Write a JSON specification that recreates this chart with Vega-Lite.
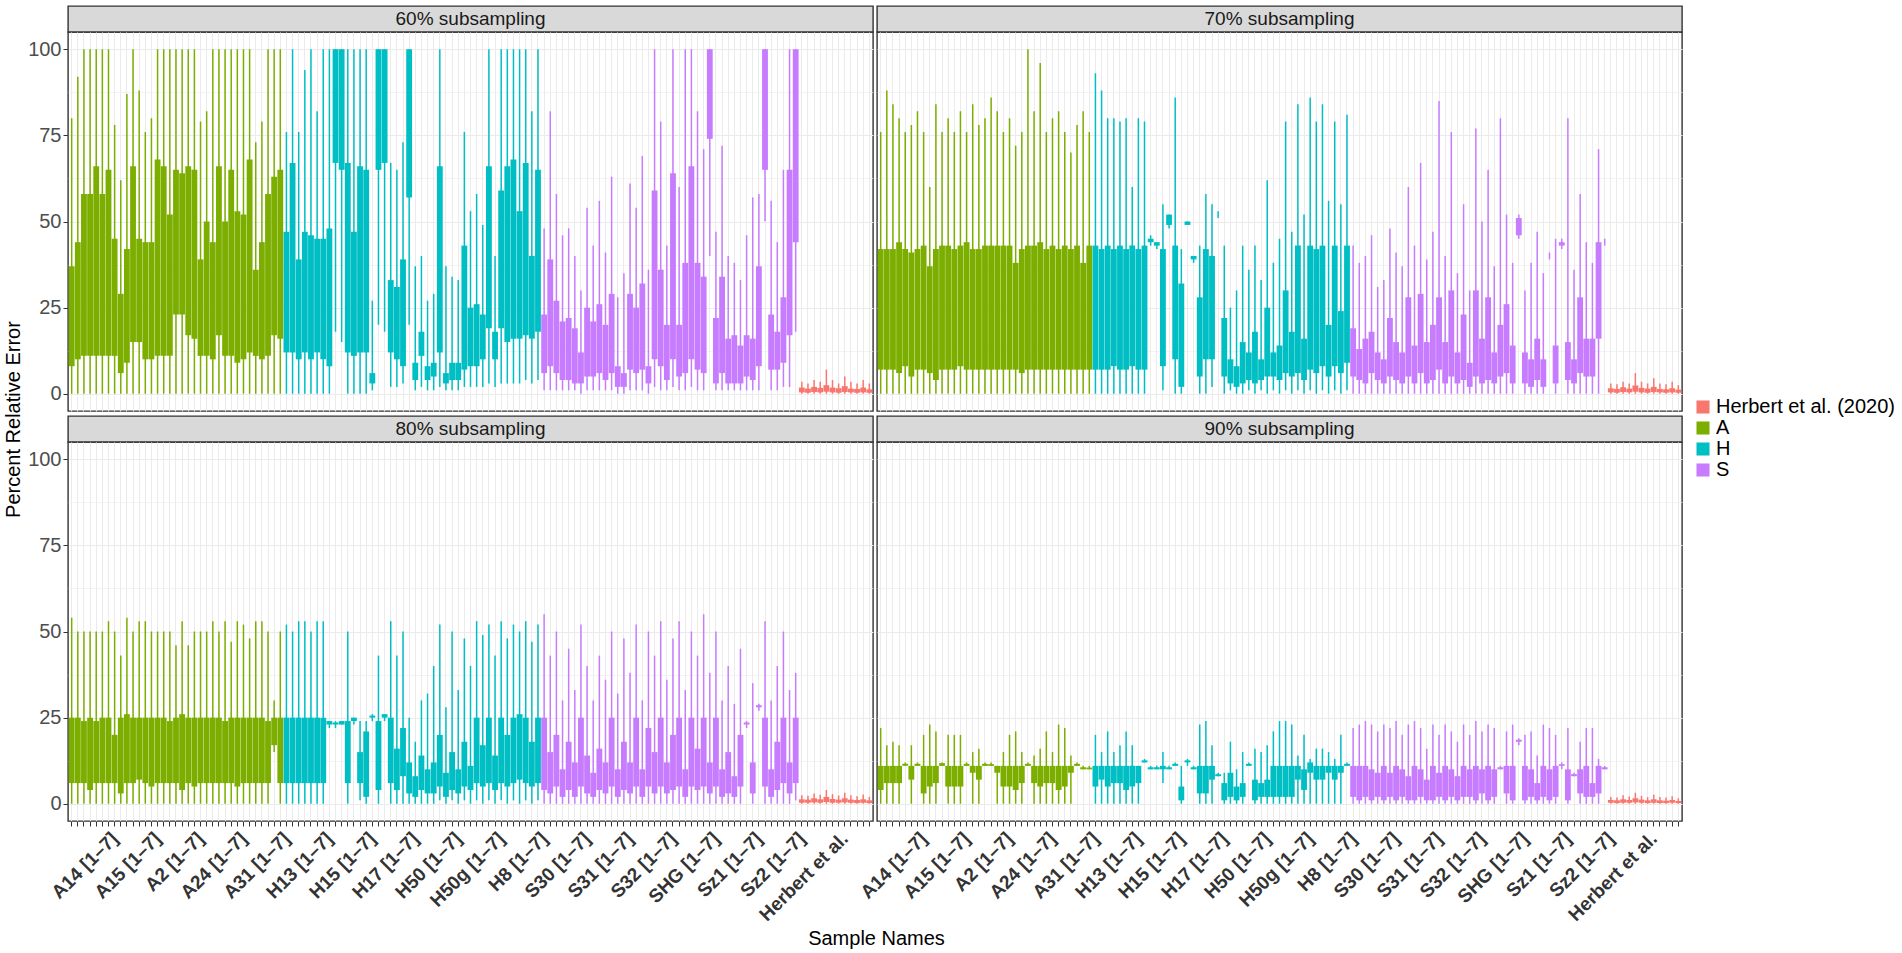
{
  "$schema": "https://vega.github.io/schema/vega-lite/v6.json",
  "background": "white",
  "padding": {"left": 2, "top": 5, "right": 0, "bottom": 0},
  "config": {
    "font": "Liberation Sans",
    "view": {"stroke": "#333333", "strokeWidth": 1.4},
    "axis": {"domain": false, "gridColor": "#EBEBEB", "tickColor": "#333333", "labelColor": "#4D4D4D", "titleColor": "#000000", "titleFontWeight": "normal", "labelFont": "Liberation Sans", "titleFont": "Liberation Sans"}
  },
  "datasets": {
    "box": [
      {"p":"60","s":"A14_1","g":"A","lo":0,"q1":8,"q3":37,"hi":80},
      {"p":"60","s":"A14_2","g":"A","lo":0,"q1":10,"q3":44,"hi":92},
      {"p":"60","s":"A14_3","g":"A","lo":0,"q1":11,"q3":58,"hi":100},
      {"p":"60","s":"A14_4","g":"A","lo":0,"q1":11,"q3":58,"hi":100},
      {"p":"60","s":"A14_5","g":"A","lo":0,"q1":11,"q3":66,"hi":100},
      {"p":"60","s":"A14_6","g":"A","lo":0,"q1":11,"q3":58,"hi":100},
      {"p":"60","s":"A14_7","g":"A","lo":0,"q1":11,"q3":65,"hi":100},
      {"p":"60","s":"A15_1","g":"A","lo":0,"q1":11,"q3":45,"hi":78},
      {"p":"60","s":"A15_2","g":"A","lo":0,"q1":6,"q3":29,"hi":62},
      {"p":"60","s":"A15_3","g":"A","lo":0,"q1":9,"q3":42,"hi":87},
      {"p":"60","s":"A15_4","g":"A","lo":0,"q1":15,"q3":66,"hi":100},
      {"p":"60","s":"A15_5","g":"A","lo":0,"q1":15,"q3":45,"hi":88},
      {"p":"60","s":"A15_6","g":"A","lo":0,"q1":10,"q3":44,"hi":76},
      {"p":"60","s":"A15_7","g":"A","lo":0,"q1":10,"q3":44,"hi":80},
      {"p":"60","s":"A2_1","g":"A","lo":0,"q1":11,"q3":68,"hi":100},
      {"p":"60","s":"A2_2","g":"A","lo":0,"q1":11,"q3":66,"hi":100},
      {"p":"60","s":"A2_3","g":"A","lo":0,"q1":11,"q3":52,"hi":100},
      {"p":"60","s":"A2_4","g":"A","lo":0,"q1":23,"q3":65,"hi":100},
      {"p":"60","s":"A2_5","g":"A","lo":0,"q1":23,"q3":64,"hi":100},
      {"p":"60","s":"A2_6","g":"A","lo":0,"q1":17,"q3":66,"hi":100},
      {"p":"60","s":"A2_7","g":"A","lo":0,"q1":16,"q3":65,"hi":100},
      {"p":"60","s":"A24_1","g":"A","lo":0,"q1":11,"q3":39,"hi":79},
      {"p":"60","s":"A24_2","g":"A","lo":0,"q1":11,"q3":50,"hi":82},
      {"p":"60","s":"A24_3","g":"A","lo":0,"q1":10,"q3":44,"hi":100},
      {"p":"60","s":"A24_4","g":"A","lo":0,"q1":17,"q3":66,"hi":100},
      {"p":"60","s":"A24_5","g":"A","lo":0,"q1":11,"q3":50,"hi":100},
      {"p":"60","s":"A24_6","g":"A","lo":0,"q1":11,"q3":65,"hi":100},
      {"p":"60","s":"A24_7","g":"A","lo":0,"q1":9,"q3":53,"hi":100},
      {"p":"60","s":"A31_1","g":"A","lo":0,"q1":10,"q3":52,"hi":100},
      {"p":"60","s":"A31_2","g":"A","lo":0,"q1":12,"q3":68,"hi":100},
      {"p":"60","s":"A31_3","g":"A","lo":0,"q1":11,"q3":36,"hi":73},
      {"p":"60","s":"A31_4","g":"A","lo":0,"q1":10,"q3":44,"hi":79},
      {"p":"60","s":"A31_5","g":"A","lo":0,"q1":11,"q3":58,"hi":100},
      {"p":"60","s":"A31_6","g":"A","lo":0,"q1":17,"q3":63,"hi":100},
      {"p":"60","s":"A31_7","g":"A","lo":0,"q1":16,"q3":65,"hi":100},
      {"p":"60","s":"H13_1","g":"H","lo":0,"q1":12,"q3":47,"hi":76},
      {"p":"60","s":"H13_2","g":"H","lo":0,"q1":12,"q3":67,"hi":100},
      {"p":"60","s":"H13_3","g":"H","lo":0,"q1":10,"q3":39,"hi":76},
      {"p":"60","s":"H13_4","g":"H","lo":0,"q1":12,"q3":47,"hi":94},
      {"p":"60","s":"H13_5","g":"H","lo":0,"q1":10,"q3":46,"hi":100},
      {"p":"60","s":"H13_6","g":"H","lo":0,"q1":12,"q3":45,"hi":82},
      {"p":"60","s":"H13_7","g":"H","lo":0,"q1":10,"q3":45,"hi":100},
      {"p":"60","s":"H15_1","g":"H","lo":0,"q1":8,"q3":48,"hi":100},
      {"p":"60","s":"H15_2","g":"H","lo":18,"q1":67,"q3":100,"hi":100},
      {"p":"60","s":"H15_3","g":"H","lo":15,"q1":65,"q3":100,"hi":100},
      {"p":"60","s":"H15_4","g":"H","lo":0,"q1":12,"q3":67,"hi":100},
      {"p":"60","s":"H15_5","g":"H","lo":0,"q1":11,"q3":47,"hi":100},
      {"p":"60","s":"H15_6","g":"H","lo":0,"q1":12,"q3":66,"hi":100},
      {"p":"60","s":"H15_7","g":"H","lo":0,"q1":12,"q3":65,"hi":100},
      {"p":"60","s":"H17_1","g":"H","lo":1,"q1":3,"q3":6,"hi":27},
      {"p":"60","s":"H17_2","g":"H","lo":20,"q1":65,"q3":100,"hi":100},
      {"p":"60","s":"H17_3","g":"H","lo":18,"q1":67,"q3":100,"hi":100},
      {"p":"60","s":"H17_4","g":"H","lo":2,"q1":12,"q3":33,"hi":67},
      {"p":"60","s":"H17_5","g":"H","lo":2,"q1":10,"q3":31,"hi":65},
      {"p":"60","s":"H17_6","g":"H","lo":3,"q1":8,"q3":39,"hi":73},
      {"p":"60","s":"H17_7","g":"H","lo":20,"q1":57,"q3":100,"hi":100},
      {"p":"60","s":"H50_1","g":"H","lo":1,"q1":4,"q3":9,"hi":37},
      {"p":"60","s":"H50_2","g":"H","lo":2,"q1":11,"q3":18,"hi":40},
      {"p":"60","s":"H50_3","g":"H","lo":1,"q1":4,"q3":8,"hi":27},
      {"p":"60","s":"H50_4","g":"H","lo":1,"q1":5,"q3":9,"hi":29},
      {"p":"60","s":"H50_5","g":"H","lo":2,"q1":12,"q3":66,"hi":100},
      {"p":"60","s":"H50_6","g":"H","lo":1,"q1":3,"q3":6,"hi":37},
      {"p":"60","s":"H50_7","g":"H","lo":1,"q1":4,"q3":9,"hi":34},
      {"p":"60","s":"H50g_1","g":"H","lo":1,"q1":4,"q3":9,"hi":33},
      {"p":"60","s":"H50g_2","g":"H","lo":2,"q1":7,"q3":43,"hi":76},
      {"p":"60","s":"H50g_3","g":"H","lo":2,"q1":8,"q3":25,"hi":53},
      {"p":"60","s":"H50g_4","g":"H","lo":2,"q1":8,"q3":26,"hi":58},
      {"p":"60","s":"H50g_5","g":"H","lo":2,"q1":10,"q3":23,"hi":49},
      {"p":"60","s":"H50g_6","g":"H","lo":3,"q1":19,"q3":66,"hi":100},
      {"p":"60","s":"H50g_7","g":"H","lo":2,"q1":10,"q3":18,"hi":40},
      {"p":"60","s":"H8_1","g":"H","lo":3,"q1":19,"q3":59,"hi":100},
      {"p":"60","s":"H8_2","g":"H","lo":3,"q1":15,"q3":66,"hi":100},
      {"p":"60","s":"H8_3","g":"H","lo":3,"q1":16,"q3":68,"hi":100},
      {"p":"60","s":"H8_4","g":"H","lo":3,"q1":16,"q3":53,"hi":100},
      {"p":"60","s":"H8_5","g":"H","lo":4,"q1":17,"q3":67,"hi":100},
      {"p":"60","s":"H8_6","g":"H","lo":3,"q1":16,"q3":40,"hi":82},
      {"p":"60","s":"H8_7","g":"H","lo":4,"q1":18,"q3":65,"hi":100},
      {"p":"60","s":"S30_1","g":"S","lo":1,"q1":6,"q3":23,"hi":48},
      {"p":"60","s":"S30_2","g":"S","lo":1,"q1":8,"q3":39,"hi":82},
      {"p":"60","s":"S30_3","g":"S","lo":1,"q1":6,"q3":27,"hi":58},
      {"p":"60","s":"S30_4","g":"S","lo":1,"q1":4,"q3":21,"hi":46},
      {"p":"60","s":"S30_5","g":"S","lo":1,"q1":4,"q3":22,"hi":48},
      {"p":"60","s":"S30_6","g":"S","lo":1,"q1":3,"q3":19,"hi":40},
      {"p":"60","s":"S30_7","g":"S","lo":0,"q1":3,"q3":12,"hi":30},
      {"p":"60","s":"S31_1","g":"S","lo":1,"q1":5,"q3":25,"hi":54},
      {"p":"60","s":"S31_2","g":"S","lo":1,"q1":5,"q3":21,"hi":43},
      {"p":"60","s":"S31_3","g":"S","lo":1,"q1":6,"q3":26,"hi":56},
      {"p":"60","s":"S31_4","g":"S","lo":1,"q1":4,"q3":20,"hi":41},
      {"p":"60","s":"S31_5","g":"S","lo":1,"q1":6,"q3":29,"hi":63},
      {"p":"60","s":"S31_6","g":"S","lo":0,"q1":2,"q3":8,"hi":28},
      {"p":"60","s":"S31_7","g":"S","lo":0,"q1":2,"q3":6,"hi":35},
      {"p":"60","s":"S32_1","g":"S","lo":1,"q1":7,"q3":29,"hi":61},
      {"p":"60","s":"S32_2","g":"S","lo":1,"q1":6,"q3":25,"hi":54},
      {"p":"60","s":"S32_3","g":"S","lo":1,"q1":7,"q3":32,"hi":69},
      {"p":"60","s":"S32_4","g":"S","lo":0,"q1":3,"q3":8,"hi":36},
      {"p":"60","s":"S32_5","g":"S","lo":2,"q1":10,"q3":59,"hi":100},
      {"p":"60","s":"S32_6","g":"S","lo":1,"q1":8,"q3":36,"hi":79},
      {"p":"60","s":"S32_7","g":"S","lo":1,"q1":4,"q3":20,"hi":43},
      {"p":"60","s":"SHG_1","g":"S","lo":2,"q1":10,"q3":64,"hi":100},
      {"p":"60","s":"SHG_2","g":"S","lo":1,"q1":5,"q3":20,"hi":60},
      {"p":"60","s":"SHG_3","g":"S","lo":1,"q1":6,"q3":38,"hi":100},
      {"p":"60","s":"SHG_4","g":"S","lo":2,"q1":10,"q3":66,"hi":100},
      {"p":"60","s":"SHG_5","g":"S","lo":1,"q1":7,"q3":38,"hi":82},
      {"p":"60","s":"SHG_6","g":"S","lo":1,"q1":6,"q3":34,"hi":71},
      {"p":"60","s":"SHG_7","g":"S","lo":40,"q1":74,"q3":100,"hi":100},
      {"p":"60","s":"Sz1_1","g":"S","lo":1,"q1":3,"q3":22,"hi":47},
      {"p":"60","s":"Sz1_2","g":"S","lo":1,"q1":6,"q3":34,"hi":72},
      {"p":"60","s":"Sz1_3","g":"S","lo":1,"q1":3,"q3":16,"hi":40},
      {"p":"60","s":"Sz1_4","g":"S","lo":1,"q1":3,"q3":17,"hi":38},
      {"p":"60","s":"Sz1_5","g":"S","lo":1,"q1":3,"q3":14,"hi":33},
      {"p":"60","s":"Sz1_6","g":"S","lo":1,"q1":5,"q3":17,"hi":46},
      {"p":"60","s":"Sz1_7","g":"S","lo":1,"q1":4,"q3":16,"hi":57},
      {"p":"60","s":"Sz2_1","g":"S","lo":1,"q1":8,"q3":37,"hi":58},
      {"p":"60","s":"Sz2_2","g":"S","lo":50,"q1":65,"q3":100,"hi":100},
      {"p":"60","s":"Sz2_3","g":"S","lo":1,"q1":7,"q3":23,"hi":56},
      {"p":"60","s":"Sz2_4","g":"S","lo":1,"q1":7,"q3":18,"hi":44},
      {"p":"60","s":"Sz2_5","g":"S","lo":2,"q1":9,"q3":28,"hi":65},
      {"p":"60","s":"Sz2_6","g":"S","lo":2,"q1":17,"q3":65,"hi":100},
      {"p":"60","s":"Sz2_7","g":"S","lo":18,"q1":44,"q3":100,"hi":100},
      {"p":"60","s":"Herbert_1","g":"Herbert et al. (2020)","lo":0,"q1":0.4,"q3":1.8,"hi":3.5},
      {"p":"60","s":"Herbert_2","g":"Herbert et al. (2020)","lo":0,"q1":0.3,"q3":1.5,"hi":3},
      {"p":"60","s":"Herbert_3","g":"Herbert et al. (2020)","lo":0,"q1":0.5,"q3":2,"hi":4},
      {"p":"60","s":"Herbert_4","g":"Herbert et al. (2020)","lo":0,"q1":0.4,"q3":1.7,"hi":3.5},
      {"p":"60","s":"Herbert_5","g":"Herbert et al. (2020)","lo":0,"q1":0.6,"q3":2.5,"hi":7},
      {"p":"60","s":"Herbert_6","g":"Herbert et al. (2020)","lo":0,"q1":0.4,"q3":1.8,"hi":4},
      {"p":"60","s":"Herbert_7","g":"Herbert et al. (2020)","lo":0,"q1":0.3,"q3":1.6,"hi":3},
      {"p":"60","s":"Herbert_8","g":"Herbert et al. (2020)","lo":0,"q1":0.5,"q3":2.2,"hi":5},
      {"p":"60","s":"Herbert_9","g":"Herbert et al. (2020)","lo":0,"q1":0.4,"q3":1.5,"hi":3.5},
      {"p":"60","s":"Herbert_10","g":"Herbert et al. (2020)","lo":0,"q1":0.3,"q3":1.4,"hi":3},
      {"p":"60","s":"Herbert_11","g":"Herbert et al. (2020)","lo":0,"q1":0.4,"q3":1.8,"hi":4},
      {"p":"60","s":"Herbert_12","g":"Herbert et al. (2020)","lo":0,"q1":0.3,"q3":1.3,"hi":3},

      {"p":"70","s":"A14_1","g":"A","lo":0,"q1":7,"q3":42,"hi":76},
      {"p":"70","s":"A14_2","g":"A","lo":0,"q1":7,"q3":42,"hi":88},
      {"p":"70","s":"A14_3","g":"A","lo":0,"q1":7,"q3":42,"hi":84},
      {"p":"70","s":"A14_4","g":"A","lo":0,"q1":6,"q3":44,"hi":80},
      {"p":"70","s":"A14_5","g":"A","lo":0,"q1":8,"q3":42,"hi":76},
      {"p":"70","s":"A14_6","g":"A","lo":0,"q1":5,"q3":41,"hi":78},
      {"p":"70","s":"A14_7","g":"A","lo":0,"q1":7,"q3":42,"hi":82},
      {"p":"70","s":"A15_1","g":"A","lo":0,"q1":7,"q3":43,"hi":76},
      {"p":"70","s":"A15_2","g":"A","lo":0,"q1":6,"q3":37,"hi":60},
      {"p":"70","s":"A15_3","g":"A","lo":0,"q1":4,"q3":42,"hi":84},
      {"p":"70","s":"A15_4","g":"A","lo":0,"q1":7,"q3":43,"hi":76},
      {"p":"70","s":"A15_5","g":"A","lo":0,"q1":7,"q3":43,"hi":80},
      {"p":"70","s":"A15_6","g":"A","lo":0,"q1":7,"q3":42,"hi":76},
      {"p":"70","s":"A15_7","g":"A","lo":0,"q1":8,"q3":43,"hi":82},
      {"p":"70","s":"A2_1","g":"A","lo":0,"q1":7,"q3":44,"hi":76},
      {"p":"70","s":"A2_2","g":"A","lo":0,"q1":7,"q3":42,"hi":84},
      {"p":"70","s":"A2_3","g":"A","lo":0,"q1":7,"q3":42,"hi":78},
      {"p":"70","s":"A2_4","g":"A","lo":0,"q1":7,"q3":43,"hi":80},
      {"p":"70","s":"A2_5","g":"A","lo":0,"q1":7,"q3":43,"hi":86},
      {"p":"70","s":"A2_6","g":"A","lo":0,"q1":7,"q3":43,"hi":82},
      {"p":"70","s":"A2_7","g":"A","lo":0,"q1":7,"q3":43,"hi":76},
      {"p":"70","s":"A24_1","g":"A","lo":0,"q1":7,"q3":43,"hi":80},
      {"p":"70","s":"A24_2","g":"A","lo":0,"q1":7,"q3":38,"hi":72},
      {"p":"70","s":"A24_3","g":"A","lo":0,"q1":6,"q3":42,"hi":76},
      {"p":"70","s":"A24_4","g":"A","lo":0,"q1":7,"q3":43,"hi":100},
      {"p":"70","s":"A24_5","g":"A","lo":0,"q1":7,"q3":43,"hi":82},
      {"p":"70","s":"A24_6","g":"A","lo":0,"q1":7,"q3":44,"hi":96},
      {"p":"70","s":"A24_7","g":"A","lo":0,"q1":7,"q3":42,"hi":76},
      {"p":"70","s":"A31_1","g":"A","lo":0,"q1":7,"q3":43,"hi":80},
      {"p":"70","s":"A31_2","g":"A","lo":0,"q1":7,"q3":42,"hi":82},
      {"p":"70","s":"A31_3","g":"A","lo":0,"q1":7,"q3":43,"hi":76},
      {"p":"70","s":"A31_4","g":"A","lo":0,"q1":7,"q3":42,"hi":70},
      {"p":"70","s":"A31_5","g":"A","lo":0,"q1":7,"q3":43,"hi":78},
      {"p":"70","s":"A31_6","g":"A","lo":0,"q1":7,"q3":38,"hi":82},
      {"p":"70","s":"A31_7","g":"A","lo":0,"q1":7,"q3":43,"hi":76},
      {"p":"70","s":"H13_1","g":"H","lo":0,"q1":7,"q3":43,"hi":93},
      {"p":"70","s":"H13_2","g":"H","lo":0,"q1":7,"q3":42,"hi":88},
      {"p":"70","s":"H13_3","g":"H","lo":0,"q1":7,"q3":43,"hi":80},
      {"p":"70","s":"H13_4","g":"H","lo":0,"q1":8,"q3":42,"hi":80},
      {"p":"70","s":"H13_5","g":"H","lo":0,"q1":7,"q3":43,"hi":79},
      {"p":"70","s":"H13_6","g":"H","lo":0,"q1":7,"q3":42,"hi":80},
      {"p":"70","s":"H13_7","g":"H","lo":0,"q1":8,"q3":43,"hi":60},
      {"p":"70","s":"H15_1","g":"H","lo":0,"q1":7,"q3":42,"hi":80},
      {"p":"70","s":"H15_2","g":"H","lo":0,"q1":7,"q3":43,"hi":79},
      {"p":"70","s":"H15_3","g":"H","lo":43,"q1":44,"q3":45,"hi":46},
      {"p":"70","s":"H15_4","g":"H","lo":42,"q1":43,"q3":44,"hi":44},
      {"p":"70","s":"H15_5","g":"H","lo":1,"q1":8,"q3":42,"hi":55},
      {"p":"70","s":"H15_6","g":"H","lo":48,"q1":49,"q3":52,"hi":52},
      {"p":"70","s":"H15_7","g":"H","lo":0,"q1":10,"q3":43,"hi":86},
      {"p":"70","s":"H17_1","g":"H","lo":0,"q1":2,"q3":32,"hi":42},
      {"p":"70","s":"H17_2","g":"H","lo":49,"q1":49,"q3":50,"hi":50},
      {"p":"70","s":"H17_3","g":"H","lo":38,"q1":39,"q3":40,"hi":40},
      {"p":"70","s":"H17_4","g":"H","lo":0,"q1":5,"q3":28,"hi":43},
      {"p":"70","s":"H17_5","g":"H","lo":0,"q1":10,"q3":42,"hi":58},
      {"p":"70","s":"H17_6","g":"H","lo":2,"q1":10,"q3":40,"hi":55},
      {"p":"70","s":"H17_7","g":"H","lo":51,"q1":52,"q3":52,"hi":53},
      {"p":"70","s":"H50_1","g":"H","lo":0,"q1":5,"q3":22,"hi":43},
      {"p":"70","s":"H50_2","g":"H","lo":1,"q1":3,"q3":10,"hi":25},
      {"p":"70","s":"H50_3","g":"H","lo":0,"q1":2,"q3":8,"hi":30},
      {"p":"70","s":"H50_4","g":"H","lo":0,"q1":3,"q3":15,"hi":43},
      {"p":"70","s":"H50_5","g":"H","lo":1,"q1":4,"q3":12,"hi":36},
      {"p":"70","s":"H50_6","g":"H","lo":0,"q1":3,"q3":18,"hi":43},
      {"p":"70","s":"H50_7","g":"H","lo":1,"q1":4,"q3":10,"hi":33},
      {"p":"70","s":"H50g_1","g":"H","lo":0,"q1":5,"q3":25,"hi":62},
      {"p":"70","s":"H50g_2","g":"H","lo":1,"q1":5,"q3":12,"hi":38},
      {"p":"70","s":"H50g_3","g":"H","lo":0,"q1":4,"q3":14,"hi":45},
      {"p":"70","s":"H50g_4","g":"H","lo":1,"q1":6,"q3":30,"hi":79},
      {"p":"70","s":"H50g_5","g":"H","lo":0,"q1":5,"q3":18,"hi":47},
      {"p":"70","s":"H50g_6","g":"H","lo":1,"q1":6,"q3":43,"hi":84},
      {"p":"70","s":"H50g_7","g":"H","lo":0,"q1":4,"q3":16,"hi":52},
      {"p":"70","s":"H8_1","g":"H","lo":1,"q1":7,"q3":43,"hi":86},
      {"p":"70","s":"H8_2","g":"H","lo":0,"q1":6,"q3":42,"hi":79},
      {"p":"70","s":"H8_3","g":"H","lo":1,"q1":8,"q3":43,"hi":84},
      {"p":"70","s":"H8_4","g":"H","lo":0,"q1":5,"q3":20,"hi":56},
      {"p":"70","s":"H8_5","g":"H","lo":1,"q1":8,"q3":43,"hi":79},
      {"p":"70","s":"H8_6","g":"H","lo":0,"q1":6,"q3":24,"hi":55},
      {"p":"70","s":"H8_7","g":"H","lo":1,"q1":9,"q3":43,"hi":81},
      {"p":"70","s":"S30_1","g":"S","lo":0,"q1":5,"q3":19,"hi":43},
      {"p":"70","s":"S30_2","g":"S","lo":0,"q1":4,"q3":13,"hi":38},
      {"p":"70","s":"S30_3","g":"S","lo":0,"q1":3,"q3":16,"hi":40},
      {"p":"70","s":"S30_4","g":"S","lo":0,"q1":6,"q3":18,"hi":46},
      {"p":"70","s":"S30_5","g":"S","lo":0,"q1":4,"q3":12,"hi":31},
      {"p":"70","s":"S30_6","g":"S","lo":0,"q1":3,"q3":10,"hi":33},
      {"p":"70","s":"S30_7","g":"S","lo":0,"q1":5,"q3":22,"hi":48},
      {"p":"70","s":"S31_1","g":"S","lo":0,"q1":4,"q3":15,"hi":41},
      {"p":"70","s":"S31_2","g":"S","lo":0,"q1":3,"q3":12,"hi":37},
      {"p":"70","s":"S31_3","g":"S","lo":0,"q1":5,"q3":28,"hi":60},
      {"p":"70","s":"S31_4","g":"S","lo":0,"q1":3,"q3":14,"hi":43},
      {"p":"70","s":"S31_5","g":"S","lo":0,"q1":6,"q3":29,"hi":67},
      {"p":"70","s":"S31_6","g":"S","lo":0,"q1":3,"q3":15,"hi":39},
      {"p":"70","s":"S31_7","g":"S","lo":0,"q1":4,"q3":20,"hi":47},
      {"p":"70","s":"S32_1","g":"S","lo":0,"q1":7,"q3":28,"hi":85},
      {"p":"70","s":"S32_2","g":"S","lo":0,"q1":3,"q3":15,"hi":40},
      {"p":"70","s":"S32_3","g":"S","lo":0,"q1":5,"q3":30,"hi":76},
      {"p":"70","s":"S32_4","g":"S","lo":0,"q1":3,"q3":12,"hi":35},
      {"p":"70","s":"S32_5","g":"S","lo":0,"q1":4,"q3":23,"hi":55},
      {"p":"70","s":"S32_6","g":"S","lo":0,"q1":2,"q3":9,"hi":30},
      {"p":"70","s":"S32_7","g":"S","lo":0,"q1":5,"q3":30,"hi":77},
      {"p":"70","s":"SHG_1","g":"S","lo":0,"q1":3,"q3":16,"hi":50},
      {"p":"70","s":"SHG_2","g":"S","lo":0,"q1":4,"q3":28,"hi":65},
      {"p":"70","s":"SHG_3","g":"S","lo":0,"q1":3,"q3":12,"hi":37},
      {"p":"70","s":"SHG_4","g":"S","lo":0,"q1":5,"q3":20,"hi":80},
      {"p":"70","s":"SHG_5","g":"S","lo":0,"q1":6,"q3":26,"hi":52},
      {"p":"70","s":"SHG_6","g":"S","lo":0,"q1":3,"q3":14,"hi":38},
      {"p":"70","s":"SHG_7","g":"S","lo":45,"q1":46,"q3":51,"hi":52},
      {"p":"70","s":"Sz1_1","g":"S","lo":0,"q1":3,"q3":12,"hi":30},
      {"p":"70","s":"Sz1_2","g":"S","lo":0,"q1":2,"q3":10,"hi":38},
      {"p":"70","s":"Sz1_3","g":"S","lo":0,"q1":4,"q3":16,"hi":47},
      {"p":"70","s":"Sz1_4","g":"S","lo":0,"q1":2,"q3":10,"hi":35},
      {"p":"70","s":"Sz1_5","g":"S","lo":39,"q1":40,"q3":40,"hi":41},
      {"p":"70","s":"Sz1_6","g":"S","lo":0,"q1":3,"q3":14,"hi":45},
      {"p":"70","s":"Sz1_7","g":"S","lo":42,"q1":43,"q3":44,"hi":45},
      {"p":"70","s":"Sz2_1","g":"S","lo":0,"q1":4,"q3":15,"hi":80},
      {"p":"70","s":"Sz2_2","g":"S","lo":0,"q1":3,"q3":10,"hi":36},
      {"p":"70","s":"Sz2_3","g":"S","lo":0,"q1":6,"q3":28,"hi":58},
      {"p":"70","s":"Sz2_4","g":"S","lo":0,"q1":5,"q3":16,"hi":44},
      {"p":"70","s":"Sz2_5","g":"S","lo":0,"q1":5,"q3":16,"hi":38},
      {"p":"70","s":"Sz2_6","g":"S","lo":0,"q1":16,"q3":44,"hi":71},
      {"p":"70","s":"Sz2_7","g":"S","lo":43,"q1":44,"q3":44,"hi":45},
      {"p":"70","s":"Herbert_1","g":"Herbert et al. (2020)","lo":0,"q1":0.4,"q3":1.6,"hi":3},
      {"p":"70","s":"Herbert_2","g":"Herbert et al. (2020)","lo":0,"q1":0.3,"q3":1.4,"hi":2.8},
      {"p":"70","s":"Herbert_3","g":"Herbert et al. (2020)","lo":0,"q1":0.5,"q3":1.9,"hi":3.5},
      {"p":"70","s":"Herbert_4","g":"Herbert et al. (2020)","lo":0,"q1":0.4,"q3":1.5,"hi":3},
      {"p":"70","s":"Herbert_5","g":"Herbert et al. (2020)","lo":0,"q1":0.6,"q3":2.4,"hi":6},
      {"p":"70","s":"Herbert_6","g":"Herbert et al. (2020)","lo":0,"q1":0.4,"q3":1.7,"hi":3.5},
      {"p":"70","s":"Herbert_7","g":"Herbert et al. (2020)","lo":0,"q1":0.3,"q3":1.5,"hi":3},
      {"p":"70","s":"Herbert_8","g":"Herbert et al. (2020)","lo":0,"q1":0.5,"q3":2,"hi":4.5},
      {"p":"70","s":"Herbert_9","g":"Herbert et al. (2020)","lo":0,"q1":0.4,"q3":1.4,"hi":3},
      {"p":"70","s":"Herbert_10","g":"Herbert et al. (2020)","lo":0,"q1":0.3,"q3":1.3,"hi":2.8},
      {"p":"70","s":"Herbert_11","g":"Herbert et al. (2020)","lo":0,"q1":0.4,"q3":1.6,"hi":3.5},
      {"p":"70","s":"Herbert_12","g":"Herbert et al. (2020)","lo":0,"q1":0.3,"q3":1.2,"hi":2.5},

      {"p":"80","s":"A14_1","g":"A","lo":0,"q1":6,"q3":25,"hi":54},
      {"p":"80","s":"A14_2","g":"A","lo":0,"q1":6,"q3":25,"hi":50},
      {"p":"80","s":"A14_3","g":"A","lo":0,"q1":6,"q3":24,"hi":50},
      {"p":"80","s":"A14_4","g":"A","lo":0,"q1":4,"q3":25,"hi":50},
      {"p":"80","s":"A14_5","g":"A","lo":0,"q1":6,"q3":24,"hi":50},
      {"p":"80","s":"A14_6","g":"A","lo":0,"q1":6,"q3":25,"hi":50},
      {"p":"80","s":"A14_7","g":"A","lo":0,"q1":6,"q3":25,"hi":53},
      {"p":"80","s":"A15_1","g":"A","lo":0,"q1":6,"q3":20,"hi":50},
      {"p":"80","s":"A15_2","g":"A","lo":0,"q1":3,"q3":25,"hi":43},
      {"p":"80","s":"A15_3","g":"A","lo":0,"q1":6,"q3":26,"hi":54},
      {"p":"80","s":"A15_4","g":"A","lo":0,"q1":6,"q3":25,"hi":50},
      {"p":"80","s":"A15_5","g":"A","lo":0,"q1":7,"q3":25,"hi":53},
      {"p":"80","s":"A15_6","g":"A","lo":0,"q1":6,"q3":25,"hi":53},
      {"p":"80","s":"A15_7","g":"A","lo":0,"q1":5,"q3":25,"hi":50},
      {"p":"80","s":"A2_1","g":"A","lo":0,"q1":6,"q3":25,"hi":50},
      {"p":"80","s":"A2_2","g":"A","lo":0,"q1":6,"q3":25,"hi":50},
      {"p":"80","s":"A2_3","g":"A","lo":0,"q1":6,"q3":24,"hi":50},
      {"p":"80","s":"A2_4","g":"A","lo":0,"q1":6,"q3":25,"hi":46},
      {"p":"80","s":"A2_5","g":"A","lo":0,"q1":4,"q3":26,"hi":53},
      {"p":"80","s":"A2_6","g":"A","lo":0,"q1":6,"q3":25,"hi":46},
      {"p":"80","s":"A2_7","g":"A","lo":0,"q1":5,"q3":25,"hi":50},
      {"p":"80","s":"A24_1","g":"A","lo":0,"q1":6,"q3":25,"hi":50},
      {"p":"80","s":"A24_2","g":"A","lo":0,"q1":6,"q3":25,"hi":50},
      {"p":"80","s":"A24_3","g":"A","lo":0,"q1":6,"q3":25,"hi":53},
      {"p":"80","s":"A24_4","g":"A","lo":0,"q1":6,"q3":25,"hi":50},
      {"p":"80","s":"A24_5","g":"A","lo":0,"q1":6,"q3":24,"hi":53},
      {"p":"80","s":"A24_6","g":"A","lo":0,"q1":6,"q3":25,"hi":47},
      {"p":"80","s":"A24_7","g":"A","lo":0,"q1":5,"q3":25,"hi":53},
      {"p":"80","s":"A31_1","g":"A","lo":0,"q1":6,"q3":25,"hi":52},
      {"p":"80","s":"A31_2","g":"A","lo":0,"q1":6,"q3":25,"hi":48},
      {"p":"80","s":"A31_3","g":"A","lo":0,"q1":6,"q3":25,"hi":53},
      {"p":"80","s":"A31_4","g":"A","lo":0,"q1":6,"q3":25,"hi":53},
      {"p":"80","s":"A31_5","g":"A","lo":0,"q1":6,"q3":24,"hi":50},
      {"p":"80","s":"A31_6","g":"A","lo":15,"q1":17,"q3":25,"hi":30},
      {"p":"80","s":"A31_7","g":"A","lo":0,"q1":6,"q3":25,"hi":50},
      {"p":"80","s":"H13_1","g":"H","lo":0,"q1":6,"q3":25,"hi":52},
      {"p":"80","s":"H13_2","g":"H","lo":0,"q1":6,"q3":25,"hi":50},
      {"p":"80","s":"H13_3","g":"H","lo":0,"q1":6,"q3":25,"hi":53},
      {"p":"80","s":"H13_4","g":"H","lo":0,"q1":6,"q3":25,"hi":53},
      {"p":"80","s":"H13_5","g":"H","lo":0,"q1":6,"q3":25,"hi":50},
      {"p":"80","s":"H13_6","g":"H","lo":0,"q1":6,"q3":25,"hi":53},
      {"p":"80","s":"H13_7","g":"H","lo":0,"q1":6,"q3":25,"hi":53},
      {"p":"80","s":"H15_1","g":"H","lo":22,"q1":23,"q3":24,"hi":24},
      {"p":"80","s":"H15_2","g":"H","lo":22,"q1":23,"q3":23.6,"hi":24},
      {"p":"80","s":"H15_3","g":"H","lo":23,"q1":23,"q3":24,"hi":24},
      {"p":"80","s":"H15_4","g":"H","lo":0,"q1":6,"q3":24,"hi":50},
      {"p":"80","s":"H15_5","g":"H","lo":23,"q1":24,"q3":25,"hi":25},
      {"p":"80","s":"H15_6","g":"H","lo":1,"q1":6,"q3":15,"hi":24},
      {"p":"80","s":"H15_7","g":"H","lo":0,"q1":2,"q3":21,"hi":24},
      {"p":"80","s":"H17_1","g":"H","lo":24,"q1":25,"q3":25.6,"hi":26},
      {"p":"80","s":"H17_2","g":"H","lo":0,"q1":4,"q3":24,"hi":43},
      {"p":"80","s":"H17_3","g":"H","lo":24,"q1":25,"q3":26,"hi":26},
      {"p":"80","s":"H17_4","g":"H","lo":0,"q1":6,"q3":25,"hi":53},
      {"p":"80","s":"H17_5","g":"H","lo":0,"q1":4,"q3":16,"hi":43},
      {"p":"80","s":"H17_6","g":"H","lo":0,"q1":8,"q3":22,"hi":50},
      {"p":"80","s":"H17_7","g":"H","lo":0,"q1":3,"q3":12,"hi":25},
      {"p":"80","s":"H50_1","g":"H","lo":0,"q1":2,"q3":8,"hi":18},
      {"p":"80","s":"H50_2","g":"H","lo":0,"q1":4,"q3":14,"hi":30},
      {"p":"80","s":"H50_3","g":"H","lo":0,"q1":3,"q3":10,"hi":32},
      {"p":"80","s":"H50_4","g":"H","lo":0,"q1":3,"q3":12,"hi":40},
      {"p":"80","s":"H50_5","g":"H","lo":1,"q1":5,"q3":20,"hi":52},
      {"p":"80","s":"H50_6","g":"H","lo":0,"q1":2,"q3":9,"hi":28},
      {"p":"80","s":"H50_7","g":"H","lo":1,"q1":4,"q3":15,"hi":50},
      {"p":"80","s":"H50g_1","g":"H","lo":0,"q1":3,"q3":10,"hi":33},
      {"p":"80","s":"H50g_2","g":"H","lo":1,"q1":5,"q3":18,"hi":48},
      {"p":"80","s":"H50g_3","g":"H","lo":0,"q1":4,"q3":11,"hi":40},
      {"p":"80","s":"H50g_4","g":"H","lo":1,"q1":6,"q3":25,"hi":53},
      {"p":"80","s":"H50g_5","g":"H","lo":0,"q1":5,"q3":17,"hi":49},
      {"p":"80","s":"H50g_6","g":"H","lo":1,"q1":6,"q3":25,"hi":52},
      {"p":"80","s":"H50g_7","g":"H","lo":0,"q1":4,"q3":14,"hi":43},
      {"p":"80","s":"H8_1","g":"H","lo":1,"q1":6,"q3":25,"hi":53},
      {"p":"80","s":"H8_2","g":"H","lo":0,"q1":5,"q3":20,"hi":48},
      {"p":"80","s":"H8_3","g":"H","lo":1,"q1":6,"q3":25,"hi":52},
      {"p":"80","s":"H8_4","g":"H","lo":0,"q1":7,"q3":26,"hi":50},
      {"p":"80","s":"H8_5","g":"H","lo":1,"q1":6,"q3":25,"hi":53},
      {"p":"80","s":"H8_6","g":"H","lo":0,"q1":5,"q3":18,"hi":47},
      {"p":"80","s":"H8_7","g":"H","lo":1,"q1":6,"q3":25,"hi":52},
      {"p":"80","s":"S30_1","g":"S","lo":0,"q1":4,"q3":25,"hi":55},
      {"p":"80","s":"S30_2","g":"S","lo":0,"q1":3,"q3":15,"hi":43},
      {"p":"80","s":"S30_3","g":"S","lo":0,"q1":5,"q3":20,"hi":50},
      {"p":"80","s":"S30_4","g":"S","lo":0,"q1":2,"q3":10,"hi":30},
      {"p":"80","s":"S30_5","g":"S","lo":0,"q1":4,"q3":18,"hi":45},
      {"p":"80","s":"S30_6","g":"S","lo":0,"q1":2,"q3":12,"hi":33},
      {"p":"80","s":"S30_7","g":"S","lo":0,"q1":5,"q3":25,"hi":52},
      {"p":"80","s":"S31_1","g":"S","lo":0,"q1":3,"q3":14,"hi":40},
      {"p":"80","s":"S31_2","g":"S","lo":0,"q1":2,"q3":9,"hi":30},
      {"p":"80","s":"S31_3","g":"S","lo":0,"q1":4,"q3":16,"hi":43},
      {"p":"80","s":"S31_4","g":"S","lo":0,"q1":3,"q3":12,"hi":36},
      {"p":"80","s":"S31_5","g":"S","lo":0,"q1":5,"q3":25,"hi":50},
      {"p":"80","s":"S31_6","g":"S","lo":0,"q1":2,"q3":10,"hi":32},
      {"p":"80","s":"S31_7","g":"S","lo":0,"q1":4,"q3":18,"hi":48},
      {"p":"80","s":"S32_1","g":"S","lo":0,"q1":3,"q3":12,"hi":38},
      {"p":"80","s":"S32_2","g":"S","lo":0,"q1":5,"q3":25,"hi":52},
      {"p":"80","s":"S32_3","g":"S","lo":0,"q1":2,"q3":10,"hi":30},
      {"p":"80","s":"S32_4","g":"S","lo":0,"q1":5,"q3":22,"hi":50},
      {"p":"80","s":"S32_5","g":"S","lo":0,"q1":3,"q3":15,"hi":43},
      {"p":"80","s":"S32_6","g":"S","lo":0,"q1":5,"q3":25,"hi":53},
      {"p":"80","s":"S32_7","g":"S","lo":0,"q1":3,"q3":12,"hi":36},
      {"p":"80","s":"SHG_1","g":"S","lo":0,"q1":4,"q3":20,"hi":48},
      {"p":"80","s":"SHG_2","g":"S","lo":0,"q1":5,"q3":25,"hi":53},
      {"p":"80","s":"SHG_3","g":"S","lo":0,"q1":2,"q3":10,"hi":33},
      {"p":"80","s":"SHG_4","g":"S","lo":0,"q1":5,"q3":25,"hi":50},
      {"p":"80","s":"SHG_5","g":"S","lo":0,"q1":4,"q3":16,"hi":43},
      {"p":"80","s":"SHG_6","g":"S","lo":0,"q1":5,"q3":25,"hi":55},
      {"p":"80","s":"SHG_7","g":"S","lo":0,"q1":3,"q3":12,"hi":38},
      {"p":"80","s":"Sz1_1","g":"S","lo":0,"q1":5,"q3":25,"hi":50},
      {"p":"80","s":"Sz1_2","g":"S","lo":0,"q1":2,"q3":10,"hi":30},
      {"p":"80","s":"Sz1_3","g":"S","lo":0,"q1":3,"q3":15,"hi":40},
      {"p":"80","s":"Sz1_4","g":"S","lo":0,"q1":2,"q3":8,"hi":29},
      {"p":"80","s":"Sz1_5","g":"S","lo":0,"q1":5,"q3":20,"hi":45},
      {"p":"80","s":"Sz1_6","g":"S","lo":22,"q1":23,"q3":23.6,"hi":24},
      {"p":"80","s":"Sz1_7","g":"S","lo":0,"q1":3,"q3":12,"hi":35},
      {"p":"80","s":"Sz2_1","g":"S","lo":27,"q1":28,"q3":28.6,"hi":29},
      {"p":"80","s":"Sz2_2","g":"S","lo":0,"q1":5,"q3":25,"hi":53},
      {"p":"80","s":"Sz2_3","g":"S","lo":0,"q1":2,"q3":10,"hi":30},
      {"p":"80","s":"Sz2_4","g":"S","lo":0,"q1":4,"q3":18,"hi":40},
      {"p":"80","s":"Sz2_5","g":"S","lo":0,"q1":6,"q3":25,"hi":50},
      {"p":"80","s":"Sz2_6","g":"S","lo":0,"q1":3,"q3":12,"hi":33},
      {"p":"80","s":"Sz2_7","g":"S","lo":1,"q1":6,"q3":25,"hi":38},
      {"p":"80","s":"Herbert_1","g":"Herbert et al. (2020)","lo":0,"q1":0.3,"q3":1.3,"hi":2.5},
      {"p":"80","s":"Herbert_2","g":"Herbert et al. (2020)","lo":0,"q1":0.3,"q3":1.2,"hi":2.3},
      {"p":"80","s":"Herbert_3","g":"Herbert et al. (2020)","lo":0,"q1":0.4,"q3":1.6,"hi":3},
      {"p":"80","s":"Herbert_4","g":"Herbert et al. (2020)","lo":0,"q1":0.3,"q3":1.3,"hi":2.6},
      {"p":"80","s":"Herbert_5","g":"Herbert et al. (2020)","lo":0,"q1":0.5,"q3":2,"hi":4},
      {"p":"80","s":"Herbert_6","g":"Herbert et al. (2020)","lo":0,"q1":0.3,"q3":1.4,"hi":2.8},
      {"p":"80","s":"Herbert_7","g":"Herbert et al. (2020)","lo":0,"q1":0.3,"q3":1.2,"hi":2.4},
      {"p":"80","s":"Herbert_8","g":"Herbert et al. (2020)","lo":0,"q1":0.4,"q3":1.6,"hi":3.2},
      {"p":"80","s":"Herbert_9","g":"Herbert et al. (2020)","lo":0,"q1":0.3,"q3":1.2,"hi":2.5},
      {"p":"80","s":"Herbert_10","g":"Herbert et al. (2020)","lo":0,"q1":0.2,"q3":1.1,"hi":2.2},
      {"p":"80","s":"Herbert_11","g":"Herbert et al. (2020)","lo":0,"q1":0.3,"q3":1.3,"hi":2.7},
      {"p":"80","s":"Herbert_12","g":"Herbert et al. (2020)","lo":0,"q1":0.2,"q3":1,"hi":2},

      {"p":"90","s":"A14_1","g":"A","lo":0,"q1":4,"q3":11,"hi":22},
      {"p":"90","s":"A14_2","g":"A","lo":0,"q1":6,"q3":11,"hi":17},
      {"p":"90","s":"A14_3","g":"A","lo":0,"q1":6,"q3":11,"hi":18},
      {"p":"90","s":"A14_4","g":"A","lo":0,"q1":6,"q3":11,"hi":17},
      {"p":"90","s":"A14_5","g":"A","lo":11,"q1":11,"q3":11.6,"hi":12},
      {"p":"90","s":"A14_6","g":"A","lo":0,"q1":7,"q3":11,"hi":17},
      {"p":"90","s":"A14_7","g":"A","lo":11,"q1":11,"q3":11.6,"hi":12},
      {"p":"90","s":"A15_1","g":"A","lo":0,"q1":3,"q3":11,"hi":20},
      {"p":"90","s":"A15_2","g":"A","lo":0,"q1":5,"q3":11,"hi":23},
      {"p":"90","s":"A15_3","g":"A","lo":0,"q1":6,"q3":11,"hi":21},
      {"p":"90","s":"A15_4","g":"A","lo":11,"q1":11,"q3":11.8,"hi":12},
      {"p":"90","s":"A15_5","g":"A","lo":0,"q1":5,"q3":11,"hi":20},
      {"p":"90","s":"A15_6","g":"A","lo":0,"q1":5,"q3":11,"hi":20},
      {"p":"90","s":"A15_7","g":"A","lo":0,"q1":5,"q3":11,"hi":20},
      {"p":"90","s":"A2_1","g":"A","lo":11,"q1":11,"q3":11.6,"hi":12},
      {"p":"90","s":"A2_2","g":"A","lo":0,"q1":9,"q3":11,"hi":15},
      {"p":"90","s":"A2_3","g":"A","lo":0,"q1":7,"q3":11,"hi":16},
      {"p":"90","s":"A2_4","g":"A","lo":11,"q1":11,"q3":11.6,"hi":12},
      {"p":"90","s":"A2_5","g":"A","lo":11,"q1":11,"q3":11.5,"hi":12},
      {"p":"90","s":"A2_6","g":"A","lo":0,"q1":9,"q3":11,"hi":11},
      {"p":"90","s":"A2_7","g":"A","lo":0,"q1":5,"q3":11,"hi":15},
      {"p":"90","s":"A24_1","g":"A","lo":0,"q1":5,"q3":11,"hi":20},
      {"p":"90","s":"A24_2","g":"A","lo":0,"q1":4,"q3":11,"hi":21},
      {"p":"90","s":"A24_3","g":"A","lo":0,"q1":6,"q3":11,"hi":15},
      {"p":"90","s":"A24_4","g":"A","lo":11,"q1":11,"q3":11.6,"hi":12},
      {"p":"90","s":"A24_5","g":"A","lo":0,"q1":6,"q3":11,"hi":14},
      {"p":"90","s":"A24_6","g":"A","lo":0,"q1":5,"q3":11,"hi":16},
      {"p":"90","s":"A24_7","g":"A","lo":0,"q1":6,"q3":11,"hi":21},
      {"p":"90","s":"A31_1","g":"A","lo":0,"q1":6,"q3":11,"hi":15},
      {"p":"90","s":"A31_2","g":"A","lo":0,"q1":4,"q3":11,"hi":23},
      {"p":"90","s":"A31_3","g":"A","lo":0,"q1":5,"q3":11,"hi":22},
      {"p":"90","s":"A31_4","g":"A","lo":0,"q1":9,"q3":11,"hi":14},
      {"p":"90","s":"A31_5","g":"A","lo":11,"q1":11,"q3":11.6,"hi":12},
      {"p":"90","s":"A31_6","g":"A","lo":10,"q1":10,"q3":10.6,"hi":11},
      {"p":"90","s":"A31_7","g":"A","lo":10,"q1":10,"q3":10.5,"hi":11},
      {"p":"90","s":"H13_1","g":"H","lo":0,"q1":5,"q3":11,"hi":20},
      {"p":"90","s":"H13_2","g":"H","lo":0,"q1":7,"q3":11,"hi":15},
      {"p":"90","s":"H13_3","g":"H","lo":0,"q1":5,"q3":11,"hi":21},
      {"p":"90","s":"H13_4","g":"H","lo":0,"q1":6,"q3":11,"hi":15},
      {"p":"90","s":"H13_5","g":"H","lo":0,"q1":6,"q3":11,"hi":17},
      {"p":"90","s":"H13_6","g":"H","lo":0,"q1":4,"q3":11,"hi":21},
      {"p":"90","s":"H13_7","g":"H","lo":0,"q1":5,"q3":11,"hi":17},
      {"p":"90","s":"H15_1","g":"H","lo":0,"q1":6,"q3":11,"hi":11},
      {"p":"90","s":"H15_2","g":"H","lo":12,"q1":12,"q3":12.6,"hi":13},
      {"p":"90","s":"H15_3","g":"H","lo":10,"q1":10,"q3":10.6,"hi":11},
      {"p":"90","s":"H15_4","g":"H","lo":10,"q1":10,"q3":10.6,"hi":11},
      {"p":"90","s":"H15_5","g":"H","lo":6,"q1":10,"q3":11,"hi":15},
      {"p":"90","s":"H15_6","g":"H","lo":10,"q1":10,"q3":10.6,"hi":11},
      {"p":"90","s":"H15_7","g":"H","lo":11,"q1":11,"q3":11.6,"hi":12},
      {"p":"90","s":"H17_1","g":"H","lo":0,"q1":1,"q3":5,"hi":11},
      {"p":"90","s":"H17_2","g":"H","lo":11,"q1":12,"q3":12.6,"hi":13},
      {"p":"90","s":"H17_3","g":"H","lo":10,"q1":10,"q3":10.6,"hi":11},
      {"p":"90","s":"H17_4","g":"H","lo":0,"q1":3,"q3":11,"hi":23},
      {"p":"90","s":"H17_5","g":"H","lo":0,"q1":3,"q3":11,"hi":24},
      {"p":"90","s":"H17_6","g":"H","lo":0,"q1":7,"q3":11,"hi":17},
      {"p":"90","s":"H17_7","g":"H","lo":8,"q1":8,"q3":8.6,"hi":9},
      {"p":"90","s":"H50_1","g":"H","lo":0,"q1":1,"q3":6,"hi":9},
      {"p":"90","s":"H50_2","g":"H","lo":0,"q1":2,"q3":9,"hi":18},
      {"p":"90","s":"H50_3","g":"H","lo":0,"q1":1,"q3":5,"hi":10},
      {"p":"90","s":"H50_4","g":"H","lo":0,"q1":2,"q3":6,"hi":15},
      {"p":"90","s":"H50_5","g":"H","lo":11,"q1":11,"q3":11.6,"hi":12},
      {"p":"90","s":"H50_6","g":"H","lo":0,"q1":1,"q3":7,"hi":16},
      {"p":"90","s":"H50_7","g":"H","lo":0,"q1":2,"q3":6,"hi":15},
      {"p":"90","s":"H50g_1","g":"H","lo":0,"q1":2,"q3":7,"hi":17},
      {"p":"90","s":"H50g_2","g":"H","lo":0,"q1":2,"q3":11,"hi":21},
      {"p":"90","s":"H50g_3","g":"H","lo":0,"q1":2,"q3":11,"hi":24},
      {"p":"90","s":"H50g_4","g":"H","lo":0,"q1":2,"q3":11,"hi":24},
      {"p":"90","s":"H50g_5","g":"H","lo":0,"q1":2,"q3":11,"hi":23},
      {"p":"90","s":"H50g_6","g":"H","lo":0,"q1":7,"q3":11,"hi":14},
      {"p":"90","s":"H50g_7","g":"H","lo":0,"q1":4,"q3":10,"hi":20},
      {"p":"90","s":"H8_1","g":"H","lo":0,"q1":9,"q3":12,"hi":13},
      {"p":"90","s":"H8_2","g":"H","lo":0,"q1":7,"q3":11,"hi":16},
      {"p":"90","s":"H8_3","g":"H","lo":0,"q1":7,"q3":11,"hi":16},
      {"p":"90","s":"H8_4","g":"H","lo":0,"q1":9,"q3":11,"hi":15},
      {"p":"90","s":"H8_5","g":"H","lo":0,"q1":7,"q3":11,"hi":13},
      {"p":"90","s":"H8_6","g":"H","lo":0,"q1":9,"q3":11,"hi":20},
      {"p":"90","s":"H8_7","g":"H","lo":11,"q1":11,"q3":11.6,"hi":12},
      {"p":"90","s":"S30_1","g":"S","lo":0,"q1":2,"q3":11,"hi":22},
      {"p":"90","s":"S30_2","g":"S","lo":0,"q1":1,"q3":11,"hi":23},
      {"p":"90","s":"S30_3","g":"S","lo":0,"q1":2,"q3":11,"hi":24},
      {"p":"90","s":"S30_4","g":"S","lo":0,"q1":1,"q3":10,"hi":23},
      {"p":"90","s":"S30_5","g":"S","lo":0,"q1":2,"q3":9,"hi":21},
      {"p":"90","s":"S30_6","g":"S","lo":0,"q1":1,"q3":11,"hi":23},
      {"p":"90","s":"S30_7","g":"S","lo":0,"q1":2,"q3":9,"hi":22},
      {"p":"90","s":"S31_1","g":"S","lo":0,"q1":1,"q3":11,"hi":24},
      {"p":"90","s":"S31_2","g":"S","lo":0,"q1":2,"q3":10,"hi":20},
      {"p":"90","s":"S31_3","g":"S","lo":0,"q1":1,"q3":8,"hi":23},
      {"p":"90","s":"S31_4","g":"S","lo":0,"q1":1,"q3":11,"hi":24},
      {"p":"90","s":"S31_5","g":"S","lo":0,"q1":2,"q3":10,"hi":22},
      {"p":"90","s":"S31_6","g":"S","lo":0,"q1":1,"q3":7,"hi":16},
      {"p":"90","s":"S31_7","g":"S","lo":0,"q1":1,"q3":11,"hi":23},
      {"p":"90","s":"S32_1","g":"S","lo":0,"q1":2,"q3":9,"hi":20},
      {"p":"90","s":"S32_2","g":"S","lo":0,"q1":1,"q3":11,"hi":23},
      {"p":"90","s":"S32_3","g":"S","lo":0,"q1":2,"q3":10,"hi":21},
      {"p":"90","s":"S32_4","g":"S","lo":0,"q1":1,"q3":8,"hi":18},
      {"p":"90","s":"S32_5","g":"S","lo":0,"q1":2,"q3":11,"hi":23},
      {"p":"90","s":"S32_6","g":"S","lo":0,"q1":2,"q3":10,"hi":20},
      {"p":"90","s":"S32_7","g":"S","lo":0,"q1":1,"q3":11,"hi":24},
      {"p":"90","s":"SHG_1","g":"S","lo":0,"q1":3,"q3":10,"hi":21},
      {"p":"90","s":"SHG_2","g":"S","lo":0,"q1":1,"q3":11,"hi":23},
      {"p":"90","s":"SHG_3","g":"S","lo":0,"q1":2,"q3":10,"hi":22},
      {"p":"90","s":"SHG_4","g":"S","lo":10,"q1":10,"q3":10.6,"hi":11},
      {"p":"90","s":"SHG_5","g":"S","lo":0,"q1":3,"q3":11,"hi":21},
      {"p":"90","s":"SHG_6","g":"S","lo":0,"q1":1,"q3":11,"hi":23},
      {"p":"90","s":"SHG_7","g":"S","lo":17,"q1":18,"q3":18.6,"hi":19},
      {"p":"90","s":"Sz1_1","g":"S","lo":0,"q1":1,"q3":11,"hi":20},
      {"p":"90","s":"Sz1_2","g":"S","lo":0,"q1":2,"q3":10,"hi":21},
      {"p":"90","s":"Sz1_3","g":"S","lo":0,"q1":1,"q3":6,"hi":14},
      {"p":"90","s":"Sz1_4","g":"S","lo":0,"q1":2,"q3":11,"hi":23},
      {"p":"90","s":"Sz1_5","g":"S","lo":0,"q1":1,"q3":10,"hi":22},
      {"p":"90","s":"Sz1_6","g":"S","lo":0,"q1":2,"q3":11,"hi":20},
      {"p":"90","s":"Sz1_7","g":"S","lo":10,"q1":11,"q3":11.5,"hi":12},
      {"p":"90","s":"Sz2_1","g":"S","lo":0,"q1":1,"q3":10,"hi":22},
      {"p":"90","s":"Sz2_2","g":"S","lo":8,"q1":8,"q3":8.6,"hi":9},
      {"p":"90","s":"Sz2_3","g":"S","lo":0,"q1":3,"q3":10,"hi":18},
      {"p":"90","s":"Sz2_4","g":"S","lo":0,"q1":2,"q3":11,"hi":22},
      {"p":"90","s":"Sz2_5","g":"S","lo":0,"q1":2,"q3":6,"hi":22},
      {"p":"90","s":"Sz2_6","g":"S","lo":0,"q1":3,"q3":11,"hi":13},
      {"p":"90","s":"Sz2_7","g":"S","lo":10,"q1":10,"q3":10.6,"hi":11},
      {"p":"90","s":"Herbert_1","g":"Herbert et al. (2020)","lo":0,"q1":0.3,"q3":1.1,"hi":2},
      {"p":"90","s":"Herbert_2","g":"Herbert et al. (2020)","lo":0,"q1":0.2,"q3":1,"hi":1.8},
      {"p":"90","s":"Herbert_3","g":"Herbert et al. (2020)","lo":0,"q1":0.3,"q3":1.3,"hi":2.5},
      {"p":"90","s":"Herbert_4","g":"Herbert et al. (2020)","lo":0,"q1":0.3,"q3":1.1,"hi":2.1},
      {"p":"90","s":"Herbert_5","g":"Herbert et al. (2020)","lo":0,"q1":0.4,"q3":1.6,"hi":3.2},
      {"p":"90","s":"Herbert_6","g":"Herbert et al. (2020)","lo":0,"q1":0.3,"q3":1.2,"hi":2.3},
      {"p":"90","s":"Herbert_7","g":"Herbert et al. (2020)","lo":0,"q1":0.2,"q3":1,"hi":1.9},
      {"p":"90","s":"Herbert_8","g":"Herbert et al. (2020)","lo":0,"q1":0.3,"q3":1.3,"hi":2.6},
      {"p":"90","s":"Herbert_9","g":"Herbert et al. (2020)","lo":0,"q1":0.2,"q3":1,"hi":2},
      {"p":"90","s":"Herbert_10","g":"Herbert et al. (2020)","lo":0,"q1":0.2,"q3":0.9,"hi":1.8},
      {"p":"90","s":"Herbert_11","g":"Herbert et al. (2020)","lo":0,"q1":0.3,"q3":1.1,"hi":2.2},
      {"p":"90","s":"Herbert_12","g":"Herbert et al. (2020)","lo":0,"q1":0.2,"q3":0.8,"hi":1.6}
    ]
  },
  "columns": 2,
  "spacing": {"row": 0, "column": 4},
  "bounds": "flush",
  "resolve": {"scale": {"color": "shared"}},
  "concat": [
    {
      "width": 805, "height": 26,
      "data": {"values": [{"t": "60% subsampling"}]},
      "view": {"fill": "#D9D9D9", "stroke": "#333333", "strokeWidth": 1.4},
      "mark": {"type": "text", "fontSize": 19, "color": "#1A1A1A", "baseline": "middle"},
      "encoding": {"text": {"field": "t"}}
    },
    {
      "width": 805, "height": 26,
      "data": {"values": [{"t": "70% subsampling"}]},
      "view": {"fill": "#D9D9D9", "stroke": "#333333", "strokeWidth": 1.4},
      "mark": {"type": "text", "fontSize": 19, "color": "#1A1A1A", "baseline": "middle"},
      "encoding": {"text": {"field": "t"}}
    },
    {
      "width": 805, "height": 379,
      "data": {"name": "box"},
      "transform": [{"filter": "datum.p == '60'"}],
      "encoding": {
        "x": {"field": "s", "type": "nominal", "sort": null, "scale": {"paddingInner": 0.05, "paddingOuter": 0.125},
              "axis": {"title": null, "labels": false, "ticks": false, "grid": true, "gridWidth": 1}},
        "color": {"field": "g", "type": "nominal",
                  "scale": {"domain": ["Herbert et al. (2020)", "A", "H", "S"], "range": ["#F8766D", "#7CAE00", "#00BFC4", "#C77CFF"]},
                  "legend": {"orient": "none", "legendX": 1625, "legendY": 391, "title": null, "labelFontSize": 20, "labelLimit": 400, "labelColor": "#000000", "symbolType": "square", "symbolSize": 170, "symbolStrokeWidth": 0, "rowPadding": 1, "labelOffset": 3}}
      },
      "layer": [
        {
          "mark": {"type": "rule", "strokeWidth": 1.5},
          "encoding": {
            "y": {"field": "lo", "type": "quantitative", "scale": {"domain": [-5, 105], "nice": false, "zero": false},
                  "axis": {"title": "Percent Relative Error", "titleFontSize": 20, "titleY": 387, "titlePadding": 4,
                           "values": [0, 12.5, 25, 37.5, 50, 62.5, 75, 87.5, 100],
                           "labelExpr": "datum.value % 25 == 0 ? datum.label : ''",
                           "labelFontSize": 20, "labelPadding": 2, "tickSize": 5,
                           "tickOpacity": {"condition": {"test": "datum.value % 25 != 0", "value": 0}, "value": 1},
                           "gridWidth": {"condition": {"test": "datum.value % 25 != 0", "value": 0.6}, "value": 1.2}}},
            "y2": {"field": "hi"}
          }
        },
        {
          "mark": {"type": "bar"},
          "encoding": {
            "y": {"field": "q1", "type": "quantitative", "scale": {"domain": [-5, 105], "nice": false, "zero": false},
                  "axis": {"title": "Percent Relative Error", "titleFontSize": 20, "titleY": 387, "titlePadding": 4,
                           "values": [0, 12.5, 25, 37.5, 50, 62.5, 75, 87.5, 100],
                           "labelExpr": "datum.value % 25 == 0 ? datum.label : ''",
                           "labelFontSize": 20, "labelPadding": 2, "tickSize": 5,
                           "tickOpacity": {"condition": {"test": "datum.value % 25 != 0", "value": 0}, "value": 1},
                           "gridWidth": {"condition": {"test": "datum.value % 25 != 0", "value": 0.6}, "value": 1.2}}},
            "y2": {"field": "q3"}
          }
        }
      ]
    },
    {
      "width": 805, "height": 379,
      "data": {"name": "box"},
      "transform": [{"filter": "datum.p == '70'"}],
      "encoding": {
        "x": {"field": "s", "type": "nominal", "sort": null, "scale": {"paddingInner": 0.05, "paddingOuter": 0.125},
              "axis": {"title": null, "labels": false, "ticks": false, "grid": true, "gridWidth": 1}},
        "color": {"field": "g", "type": "nominal",
                  "scale": {"domain": ["Herbert et al. (2020)", "A", "H", "S"], "range": ["#F8766D", "#7CAE00", "#00BFC4", "#C77CFF"]},
                  "legend": {"orient": "none", "legendX": 1625, "legendY": 391, "title": null, "labelFontSize": 20, "labelLimit": 400, "labelColor": "#000000", "symbolType": "square", "symbolSize": 170, "symbolStrokeWidth": 0, "rowPadding": 1, "labelOffset": 3}}
      },
      "layer": [
        {
          "mark": {"type": "rule", "strokeWidth": 1.5},
          "encoding": {
            "y": {"field": "lo", "type": "quantitative", "scale": {"domain": [-5, 105], "nice": false, "zero": false},
                  "axis": {"title": null, "labels": false, "ticks": false,
                           "values": [0, 12.5, 25, 37.5, 50, 62.5, 75, 87.5, 100],
                           "gridWidth": {"condition": {"test": "datum.value % 25 != 0", "value": 0.6}, "value": 1.2}}},
            "y2": {"field": "hi"}
          }
        },
        {
          "mark": {"type": "bar"},
          "encoding": {
            "y": {"field": "q1", "type": "quantitative", "scale": {"domain": [-5, 105], "nice": false, "zero": false},
                  "axis": {"title": null, "labels": false, "ticks": false,
                           "values": [0, 12.5, 25, 37.5, 50, 62.5, 75, 87.5, 100],
                           "gridWidth": {"condition": {"test": "datum.value % 25 != 0", "value": 0.6}, "value": 1.2}}},
            "y2": {"field": "q3"}
          }
        }
      ]
    },
    {
      "width": 805, "height": 5,
      "data": {"values": []},
      "view": {"stroke": null, "fill": null},
      "mark": "point",
      "encoding": {}
    },
    {
      "width": 805, "height": 5,
      "data": {"values": []},
      "view": {"stroke": null, "fill": null},
      "mark": "point",
      "encoding": {}
    },
    {
      "width": 805, "height": 26,
      "data": {"values": [{"t": "80% subsampling"}]},
      "view": {"fill": "#D9D9D9", "stroke": "#333333", "strokeWidth": 1.4},
      "mark": {"type": "text", "fontSize": 19, "color": "#1A1A1A", "baseline": "middle"},
      "encoding": {"text": {"field": "t"}}
    },
    {
      "width": 805, "height": 26,
      "data": {"values": [{"t": "90% subsampling"}]},
      "view": {"fill": "#D9D9D9", "stroke": "#333333", "strokeWidth": 1.4},
      "mark": {"type": "text", "fontSize": 19, "color": "#1A1A1A", "baseline": "middle"},
      "encoding": {"text": {"field": "t"}}
    },
    {
      "width": 805, "height": 379,
      "data": {"name": "box"},
      "transform": [{"filter": "datum.p == '80'"}],
      "encoding": {
        "x": {"field": "s", "type": "nominal", "sort": null, "scale": {"paddingInner": 0.05, "paddingOuter": 0.125},
              "axis": {"title": "Sample Names", "titleFontSize": 20, "titleX": 808, "titleY": 117, "titleBaseline": "middle", "titleAlign": "center",
                       "labelExpr": "slice(datum.value, -2) == '_7' ? (datum.value == 'Herbert_7' ? 'Herbert et al.' : replace(datum.value, '_7', ' [1–7]')) : ''",
                       "labelAngle": -45, "labelAlign": "right", "labelBaseline": "top", "labelFontSize": 19, "labelFontWeight": "bold", "labelColor": "#333333",
                       "labelOverlap": false, "labelPadding": 3, "labelBound": false, "labelFlush": false, "tickSize": 5, "grid": true, "gridWidth": 1}},
        "color": {"field": "g", "type": "nominal",
                  "scale": {"domain": ["Herbert et al. (2020)", "A", "H", "S"], "range": ["#F8766D", "#7CAE00", "#00BFC4", "#C77CFF"]},
                  "legend": {"orient": "none", "legendX": 1625, "legendY": 391, "title": null, "labelFontSize": 20, "labelLimit": 400, "labelColor": "#000000", "symbolType": "square", "symbolSize": 170, "symbolStrokeWidth": 0, "rowPadding": 1, "labelOffset": 3}}
      },
      "layer": [
        {
          "mark": {"type": "rule", "strokeWidth": 1.5},
          "encoding": {
            "y": {"field": "lo", "type": "quantitative", "scale": {"domain": [-5, 105], "nice": false, "zero": false},
                  "axis": {"title": null,
                           "values": [0, 12.5, 25, 37.5, 50, 62.5, 75, 87.5, 100],
                           "labelExpr": "datum.value % 25 == 0 ? datum.label : ''",
                           "labelFontSize": 20, "labelPadding": 2, "tickSize": 5,
                           "tickOpacity": {"condition": {"test": "datum.value % 25 != 0", "value": 0}, "value": 1},
                           "gridWidth": {"condition": {"test": "datum.value % 25 != 0", "value": 0.6}, "value": 1.2}}},
            "y2": {"field": "hi"}
          }
        },
        {
          "mark": {"type": "bar"},
          "encoding": {
            "y": {"field": "q1", "type": "quantitative", "scale": {"domain": [-5, 105], "nice": false, "zero": false},
                  "axis": {"title": null,
                           "values": [0, 12.5, 25, 37.5, 50, 62.5, 75, 87.5, 100],
                           "labelExpr": "datum.value % 25 == 0 ? datum.label : ''",
                           "labelFontSize": 20, "labelPadding": 2, "tickSize": 5,
                           "tickOpacity": {"condition": {"test": "datum.value % 25 != 0", "value": 0}, "value": 1},
                           "gridWidth": {"condition": {"test": "datum.value % 25 != 0", "value": 0.6}, "value": 1.2}}},
            "y2": {"field": "q3"}
          }
        }
      ]
    },
    {
      "width": 805, "height": 379,
      "data": {"name": "box"},
      "transform": [{"filter": "datum.p == '90'"}],
      "encoding": {
        "x": {"field": "s", "type": "nominal", "sort": null, "scale": {"paddingInner": 0.05, "paddingOuter": 0.125},
              "axis": {"title": null,
                       "labelExpr": "slice(datum.value, -2) == '_7' ? (datum.value == 'Herbert_7' ? 'Herbert et al.' : replace(datum.value, '_7', ' [1–7]')) : ''",
                       "labelAngle": -45, "labelAlign": "right", "labelBaseline": "top", "labelFontSize": 19, "labelFontWeight": "bold", "labelColor": "#333333",
                       "labelOverlap": false, "labelPadding": 3, "labelBound": false, "labelFlush": false, "tickSize": 5, "grid": true, "gridWidth": 1}},
        "color": {"field": "g", "type": "nominal",
                  "scale": {"domain": ["Herbert et al. (2020)", "A", "H", "S"], "range": ["#F8766D", "#7CAE00", "#00BFC4", "#C77CFF"]},
                  "legend": {"orient": "none", "legendX": 1625, "legendY": 391, "title": null, "labelFontSize": 20, "labelLimit": 400, "labelColor": "#000000", "symbolType": "square", "symbolSize": 170, "symbolStrokeWidth": 0, "rowPadding": 1, "labelOffset": 3}}
      },
      "layer": [
        {
          "mark": {"type": "rule", "strokeWidth": 1.5},
          "encoding": {
            "y": {"field": "lo", "type": "quantitative", "scale": {"domain": [-5, 105], "nice": false, "zero": false},
                  "axis": {"title": null, "labels": false, "ticks": false,
                           "values": [0, 12.5, 25, 37.5, 50, 62.5, 75, 87.5, 100],
                           "gridWidth": {"condition": {"test": "datum.value % 25 != 0", "value": 0.6}, "value": 1.2}}},
            "y2": {"field": "hi"}
          }
        },
        {
          "mark": {"type": "bar"},
          "encoding": {
            "y": {"field": "q1", "type": "quantitative", "scale": {"domain": [-5, 105], "nice": false, "zero": false},
                  "axis": {"title": null, "labels": false, "ticks": false,
                           "values": [0, 12.5, 25, 37.5, 50, 62.5, 75, 87.5, 100],
                           "gridWidth": {"condition": {"test": "datum.value % 25 != 0", "value": 0.6}, "value": 1.2}}},
            "y2": {"field": "q3"}
          }
        }
      ]
    }
  ]
}
